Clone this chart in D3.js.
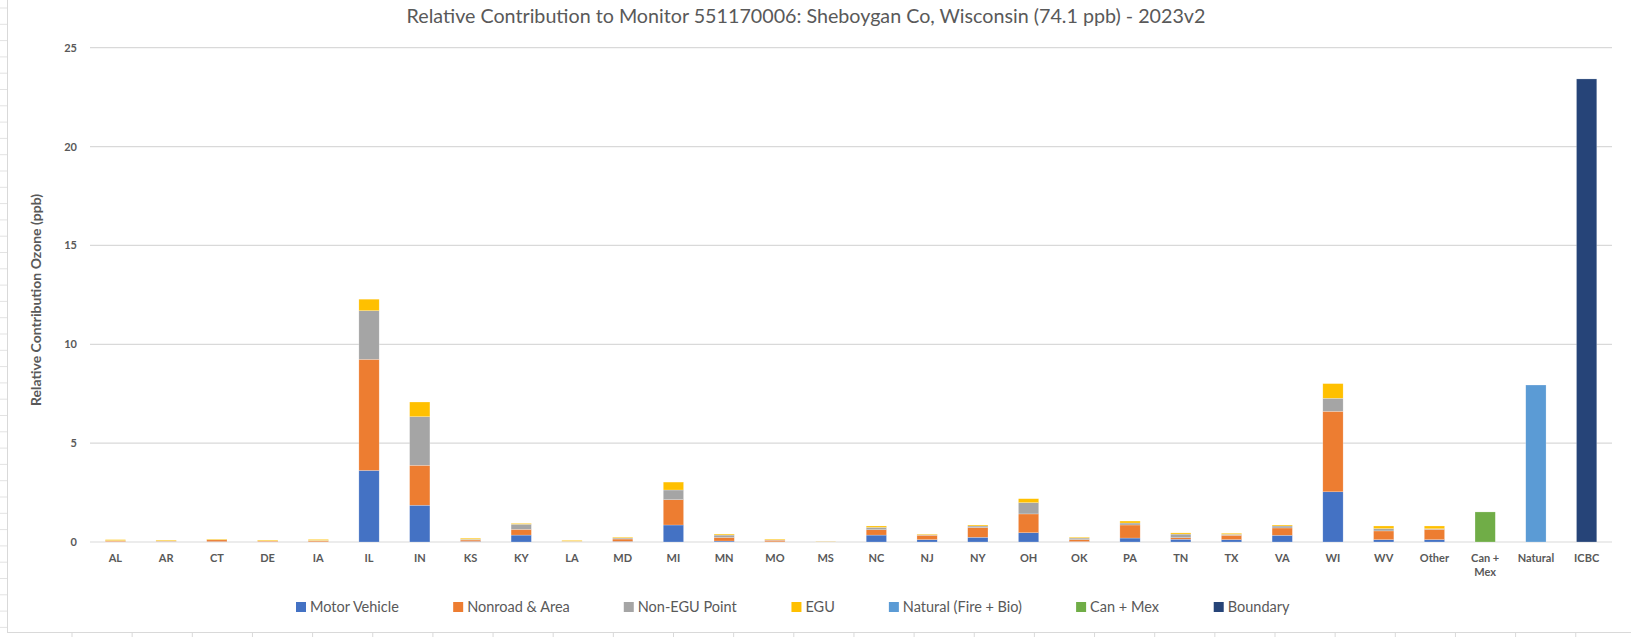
<!DOCTYPE html>
<html>
<head>
<meta charset="utf-8">
<script src="https://cdn.jsdelivr.net/npm/d3@7"></script>
<style>
  body { margin: 0; background: #fff; }
  svg text { font-family: Lato, "Open Sans", sans-serif; fill: #595959; }
  .tick text { font-weight: bold; font-size: 11px; }
</style>
</head>
<body>
<div id="chart"></div>
<script>
// chart values (ppb)
const categories = ['AL', 'AR', 'CT', 'DE', 'IA', 'IL', 'IN', 'KS', 'KY', 'LA', 'MD', 'MI', 'MN', 'MO', 'MS',
    'NC', 'NJ', 'NY', 'OH', 'OK', 'PA', 'TN', 'TX', 'VA', 'WI', 'WV', 'Other', 'Can + Mex', 'Natural', 'ICBC'];

const motorVehicle = [0.01, 0.01, 0.02, 0.01, 0.01, 3.62, 1.86, 0.03, 0.35, 0.01, 0.03, 0.86, 0.05, 0.01, 0.00,
    0.35, 0.12, 0.24, 0.47, 0.02, 0.20, 0.14, 0.12, 0.34, 2.54, 0.12, 0.12, 0, 0, 0];
const nonroadArea = [0.04, 0.03, 0.09, 0.04, 0.05, 5.62, 2.02, 0.07, 0.29, 0.02, 0.12, 1.28, 0.18, 0.08, 0.01,
    0.27, 0.22, 0.49, 0.95, 0.10, 0.66, 0.08, 0.22, 0.37, 4.07, 0.44, 0.52, 0, 0, 0];
const nonEguPoint = [0.02, 0.02, 0.01, 0.01, 0.02, 2.46, 2.46, 0.04, 0.26, 0.01, 0.05, 0.49, 0.12, 0.02, 0.02,
    0.12, 0.03, 0.08, 0.57, 0.08, 0.10, 0.18, 0.05, 0.10, 0.66, 0.12, 0.03, 0, 0, 0];
const egu = [0.05, 0.04, 0.03, 0.04, 0.05, 0.58, 0.74, 0.05, 0.04, 0.04, 0.04, 0.40, 0.05, 0.04, 0.01,
    0.07, 0.03, 0.05, 0.20, 0.04, 0.10, 0.06, 0.05, 0.05, 0.74, 0.13, 0.14, 0, 0, 0];
const naturalFireBio = categories.map(c => c === 'Natural' ? 7.94 : 0);
const canMex = categories.map(c => c === 'Can + Mex' ? 1.52 : 0);
const boundary = categories.map(c => c === 'ICBC' ? 23.42 : 0);

const seriesNames = ['Motor Vehicle', 'Nonroad & Area', 'Non-EGU Point', 'EGU', 'Natural (Fire + Bio)', 'Can + Mex', 'Boundary'];
const seriesValues = [motorVehicle, nonroadArea, nonEguPoint, egu, naturalFireBio, canMex, boundary];
const seriesColors = ['#4472C4', '#ED7D31', '#A5A5A5', '#FFC000', '#5B9BD5', '#70AD47', '#264478'];
const yTicks = [0, 5, 10, 15, 20, 25];

const title = 'Relative Contribution to Monitor 551170006: Sheboygan Co, Wisconsin (74.1 ppb) - 2023v2';
const yTitle = 'Relative Contribution Ozone (ppb)';

const W = 1631, H = 637;
const plot = {left: 90, right: 1612, top: 47.7, bottom: 542};

const svg = d3.select('#chart').append('svg')
    .attr('width', W)
    .attr('height', H);

// spreadsheet cell lines peeking out around the chart frame
const rowLines = d3.range(8, H, 16.3);
svg.append('g').selectAll('line').data(rowLines).join('line')
    .attr('x1', 0).attr('x2', 7)
    .attr('y1', d => d).attr('y2', d => d)
    .attr('stroke', '#e3e3e3');
const colLines = d3.range(72, W, 60.15);
svg.append('g').selectAll('line').data(colLines).join('line')
    .attr('x1', d => d).attr('x2', d => d)
    .attr('y1', 633).attr('y2', H)
    .attr('stroke', '#d9d9d9');

// chart frame
svg.append('rect')
    .attr('x', 7.5).attr('y', -5)
    .attr('width', W + 10).attr('height', 637.5)
    .attr('fill', '#fff')
    .attr('stroke', '#d9d9d9');

// scales
const x = d3.scaleBand()
    .domain(categories)
    .range([plot.left, plot.right])
    .paddingInner(0.6)
    .paddingOuter(0.3);

const y = d3.scaleLinear()
    .domain([0, 25])
    .range([plot.bottom, plot.top]);

// gridlines
svg.append('g').selectAll('line').data(yTicks).join('line')
    .attr('x1', plot.left).attr('x2', plot.right)
    .attr('y1', d => y(d)).attr('y2', d => y(d))
    .attr('stroke', '#d9d9d9')
    .attr('stroke-width', 1.2);

// stacked bars
const table = categories.map((c, i) => {
    const row = {category: c};
    seriesNames.forEach((s, j) => row[s] = seriesValues[j][i]);
    return row;
});
const stacked = d3.stack().keys(seriesNames)(table);

svg.append('g').selectAll('g').data(stacked).join('g')
    .attr('fill', (d, i) => seriesColors[i])
    .selectAll('rect')
    .data(d => d.filter(p => p[1] - p[0] > 0))
    .join('rect')
    .attr('x', d => x(d.data.category))
    .attr('width', x.bandwidth())
    .attr('y', d => y(d[1]))
    .attr('height', d => y(d[0]) - y(d[1]))
    .attr('stroke', 'rgba(255,255,255,0.45)')
    .attr('stroke-width', 0.5);

// axes
const yAxis = svg.append('g')
    .attr('transform', `translate(${plot.left},0)`)
    .call(d3.axisLeft(y).tickValues(yTicks).tickSize(0).tickPadding(13));
yAxis.select('.domain').remove();

const xAxis = svg.append('g')
    .attr('transform', `translate(0,${plot.bottom})`)
    .call(d3.axisBottom(x).tickSize(0).tickPadding(12));
xAxis.select('.domain').remove();

// wrap "Can + Mex" onto two lines like the original
xAxis.selectAll('.tick text').each(function(d) {
    if (d !== 'Can + Mex') return;
    const t = d3.select(this).text(null);
    t.append('tspan').attr('x', 0).attr('dy', '0.71em').text('Can +');
    t.append('tspan').attr('x', 0).attr('dy', '1.3em').text('Mex');
});

// titles
svg.append('text')
    .attr('x', 806)
    .attr('y', 23)
    .attr('text-anchor', 'middle')
    .style('font-size', '19.7px')
    .text(title);

svg.append('text')
    .attr('transform', `translate(41,300) rotate(-90)`)
    .attr('text-anchor', 'middle')
    .style('font-size', '14px')
    .style('font-weight', 'bold')
    .text(yTitle);

// legend, laid out from measured text widths
const legend = svg.append('g').attr('transform', 'translate(0,607)');
const items = legend.selectAll('g').data(seriesNames).join('g');
items.append('rect')
    .attr('width', 10).attr('height', 10)
    .attr('y', -5)
    .attr('fill', (d, i) => seriesColors[i]);
items.append('text')
    .attr('x', 14)
    .attr('dy', '0.35em')
    .style('font-size', '14.5px')
    .text(d => d);

const gap = 54;
let widths = [];
items.each(function() { widths.push(this.getBBox().width); });
let cursor = 296;
items.attr('transform', (d, i) => {
    const pos = cursor;
    cursor += widths[i] + gap;
    return `translate(${pos},0)`;
});
</script>
</body>
</html>
